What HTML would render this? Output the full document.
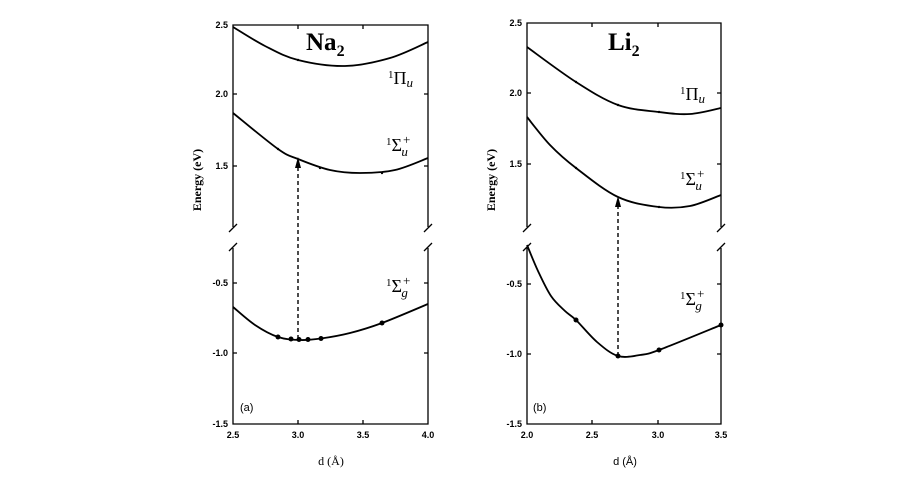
<!DOCTYPE html>
<html><head><meta charset="utf-8"><style>
body{margin:0;background:#fff}
svg text{font-family:"Liberation Sans",sans-serif;fill:#000}
svg text.s{font-family:"Liberation Serif",serif}
</style></head><body>
<svg id="s" width="909" height="484" viewBox="0 0 909 484" xmlns="http://www.w3.org/2000/svg">
<g fill="none" stroke="#000" stroke-width="1.3">
<path d="M233,227 V25 H428 V227 M233,248 V424 H428 V248"/>
<path d="M229,232 L237,224 M229,251 L237,243" />
<path d="M424,232 L432,224 M424,251 L432,243" />
<path d="M527,227 V23 H721 V227 M527,248 V424 H721 V248"/>
<path d="M523,232 L531,224 M523,251 L531,243" />
<path d="M717,232 L725,224 M717,251 L725,243" />
<path d="M233,94 h4 M233,166 h4 M233,283 h4 M233,353 h4 M428,94 h-4 M428,166 h-4 M428,283 h-4 M428,353 h-4 M298,424 v-4 M363,424 v-4 M298,25 v4 M363,25 v4"/>
<path d="M527,93 h4 M527,164 h4 M527,284 h4 M527,354 h4 M721,93 h-4 M721,164 h-4 M721,284 h-4 M721,354 h-4 M592,424 v-4 M658,424 v-4 M592,23 v4 M658,23 v4"/>
<g id="curves" stroke-width="1.8"></g>
<path d="M298,339 V166" stroke-dasharray="4,3" stroke-width="1.4"/>
<path d="M618,356 V206" stroke-dasharray="4,3" stroke-width="1.4"/>
</g>
<polygon points="298,157 295,168 301,168" fill="#000"/>
<polygon points="618,196 615,207 621,207" fill="#000"/>
<g fill="#000">
<circle cx="278" cy="337" r="2.5"/><circle cx="291" cy="339" r="2.5"/><circle cx="299" cy="339.5" r="2.5"/><circle cx="308" cy="339.5" r="2.5"/><circle cx="321" cy="338.5" r="2.5"/><circle cx="382" cy="323" r="2.5"/>
<circle cx="576" cy="320" r="2.5"/><circle cx="618" cy="356" r="2.5"/><circle cx="659" cy="350" r="2.5"/><circle cx="721" cy="325" r="2.5"/>
<circle cx="576" cy="82" r="1.2"/><circle cx="618" cy="105" r="1.2"/><circle cx="659" cy="112" r="1.2"/><circle cx="576" cy="168" r="1.2"/><circle cx="659" cy="207" r="1.2"/>
<circle cx="298" cy="60" r="1.2"/><circle cx="278" cy="149" r="1.2"/><circle cx="320" cy="168" r="1.2"/><circle cx="382" cy="173" r="1.2"/>
</g>
<g font-size="9" font-weight="bold" text-anchor="end">
<text x="228" y="28">2.5</text><text x="228" y="97">2.0</text><text x="228" y="169">1.5</text><text x="228" y="286">-0.5</text><text x="228" y="356">-1.0</text><text x="228" y="427">-1.5</text>
<text x="522" y="26">2.5</text><text x="522" y="96">2.0</text><text x="522" y="167">1.5</text><text x="522" y="287">-0.5</text><text x="522" y="357">-1.0</text><text x="522" y="427">-1.5</text>
</g>
<g font-size="9" font-weight="bold" text-anchor="middle">
<text x="233" y="438">2.5</text><text x="298" y="438">3.0</text><text x="363" y="438">3.5</text><text x="428" y="438">4.0</text>
<text x="527" y="438">2.0</text><text x="592" y="438">2.5</text><text x="658" y="438">3.0</text><text x="721" y="438">3.5</text>
</g>
<text class="s" x="331" y="465" font-size="12" text-anchor="middle">d (Å)</text>
<text x="625" y="465" font-size="11" text-anchor="middle">d (Å)</text>
<text class="s" transform="translate(201,180) rotate(-90)" font-size="12" font-weight="bold" text-anchor="middle">Energy (eV)</text>
<text class="s" transform="translate(495,180) rotate(-90)" font-size="12" font-weight="bold" text-anchor="middle">Energy (eV)</text>
<text x="240" y="411" font-size="11">(a)</text>
<text x="533" y="411" font-size="11">(b)</text>
<text class="s" x="306" y="50" font-size="25" font-weight="bold">Na<tspan font-size="16" dy="6">2</tspan></text>
<text class="s" x="608" y="50" font-size="25" font-weight="bold">Li<tspan font-size="16" dy="6">2</tspan></text>
<g font-size="18">
<text class="s" x="388" y="84"><tspan font-size="11" dy="-6">1</tspan><tspan dy="6">Π</tspan><tspan font-style="italic" font-size="13" dy="3">u</tspan></text>
<text class="s" x="386" y="151"><tspan font-size="11" dy="-6">1</tspan><tspan dy="6">Σ</tspan><tspan font-size="13" dx="1" dy="-7">+</tspan><tspan font-style="italic" font-size="13" dx="-9" dy="12">u</tspan></text>
<text class="s" x="386" y="292"><tspan font-size="11" dy="-6">1</tspan><tspan dy="6">Σ</tspan><tspan font-size="13" dx="1" dy="-7">+</tspan><tspan font-style="italic" font-size="13" dx="-9" dy="12">g</tspan></text>
<text class="s" x="680" y="100"><tspan font-size="11" dy="-6">1</tspan><tspan dy="6">Π</tspan><tspan font-style="italic" font-size="13" dy="3">u</tspan></text>
<text class="s" x="680" y="185"><tspan font-size="11" dy="-6">1</tspan><tspan dy="6">Σ</tspan><tspan font-size="13" dx="1" dy="-7">+</tspan><tspan font-style="italic" font-size="13" dx="-9" dy="12">u</tspan></text>
<text class="s" x="680" y="305"><tspan font-size="11" dy="-6">1</tspan><tspan dy="6">Σ</tspan><tspan font-size="13" dx="1" dy="-7">+</tspan><tspan font-style="italic" font-size="13" dx="-9" dy="12">g</tspan></text>
</g>
</svg>
<script>
function cr(p){var d="M"+p[0][0]+","+p[0][1];for(var i=0;i<p.length-1;i++){var p0=p[i-1]||p[i],p1=p[i],p2=p[i+1],p3=p[i+2]||p2;
d+=" C"+(p1[0]+(p2[0]-p0[0])/6)+","+(p1[1]+(p2[1]-p0[1])/6)+" "+(p2[0]-(p3[0]-p1[0])/6)+","+(p2[1]-(p3[1]-p1[1])/6)+" "+p2[0]+","+p2[1];}return d;}
var C=[
[[233,27],[265,46],[298,60],[345,66],[390,58],[428,42]],
[[233,113],[278,149],[298,159],[330,170],[360,173],[395,170],[428,158]],
[[233,307],[255,325],[278,337],[300,340],[321,338.5],[350,333],[382,323],[428,304]],
[[527,47],[576,82],[618,105],[659,112],[690,114],[721,108]],
[[527,117],[550,145],[576,168],[618,197],[659,207],[690,206],[721,195]],
[[527,245],[538,271],[551,296],[565,311],[576,320],[597,342],[618,356],[640,355],[659,350],[721,325]]];
var g=document.getElementById("curves"),h="";
C.forEach(function(c){h+='<path d="'+cr(c)+'"/>';});g.innerHTML=h;
</script>
</body></html>
